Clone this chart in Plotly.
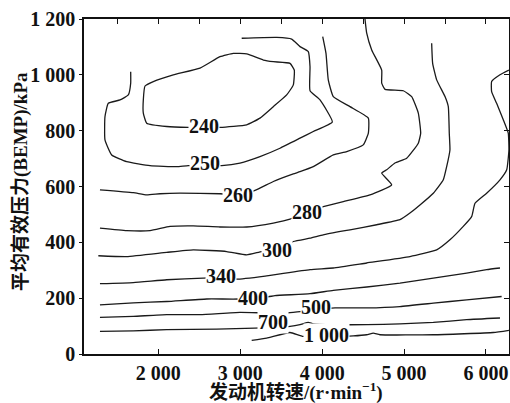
import plotly.graph_objects as go

# ---- data (engine speed r/min, BMEP kPa) ----
levels = ["240", "250", "260", "280", "300", "340", "400", "500", "700", "1 000"]

rpm_240 = [1838, 1817, 1817, 1858, 2103, 2366, 2753, 3079, 3241, 3404, 3567, 3648, 3660, 3608, 3404, 3282, 3079, 2915, 2753, 2509, 2183, 1939, 1838]
bmep_240 = [960, 910, 863, 827, 815, 812, 812, 821, 845, 886, 928, 964, 1017, 1041, 1047, 1053, 1075, 1077, 1065, 1024, 1000, 976, 960]

rpm_250 = [1663, 1663, 1634, 1533, 1390, 1349, 1349, 1431, 1614, 1899, 2225, 2366, 2774, 2997, 3241, 3485, 3730, 3892, 4124, 3974, 3852, 3852, 3831, 3730, 3628, 3445, 3018]
bmep_250 = [1011, 970, 928, 910, 898, 850, 767, 713, 689, 675, 671, 675, 675, 684, 707, 737, 773, 797, 831, 910, 943, 1029, 1083, 1101, 1128, 1134, 1131]

rpm_260 = [1288, 1695, 1858, 2021, 2265, 2753, 2973, 3180, 3404, 3648, 3730, 3892, 4136, 4300, 4502, 4564, 4564, 4340, 4136, 4075, 4047, 4007]
bmep_260 = [588, 578, 570, 574, 576, 574, 570, 586, 618, 645, 653, 671, 713, 725, 749, 791, 845, 886, 922, 982, 1077, 1137]

rpm_280 = [1288, 1614, 1899, 2143, 2427, 2753, 3079, 3404, 3608, 3791, 4014, 4258, 4584, 4849, 4727, 4788, 4889, 5032, 5174, 5203, 5174, 5093, 4991, 4768, 4727, 4727, 4605, 4544, 4523]
bmep_280 = [451, 442, 442, 457, 459, 455, 455, 469, 483, 509, 528, 546, 570, 606, 648, 660, 684, 701, 755, 791, 863, 922, 943, 948, 970, 1017, 1089, 1149, 1200]

rpm_300 = [1268, 1614, 2103, 2427, 2835, 3079, 3262, 3450, 3648, 3852, 4014, 4340, 4666, 4950, 5072, 5194, 5357, 5479, 5520, 5560, 5552, 5540, 5500, 5398, 5349, 5337]
bmep_300 = [352, 349, 364, 373, 367, 355, 367, 373, 403, 415, 427, 445, 463, 481, 505, 534, 576, 624, 671, 731, 791, 886, 922, 982, 1041, 1113]

rpm_340 = [1288, 1695, 2103, 2549, 2765, 2957, 3323, 3852, 4136, 4544, 5072, 5398, 5560, 5723, 5825, 5866, 6008, 6171, 6253, 6280, 6272, 6211, 6130, 6069, 6069, 6171, 6280]
bmep_340 = [252, 256, 266, 272, 277, 268, 280, 302, 308, 326, 349, 373, 409, 457, 492, 540, 576, 624, 660, 731, 791, 839, 898, 940, 976, 1000, 1017]

rpm_400 = [1288, 1695, 2103, 2591, 2976, 3343, 3424, 3852, 4136, 4544, 4950, 5357, 5764, 6008, 6171]
bmep_400 = [176, 183, 188, 197, 197, 205, 209, 216, 228, 240, 254, 272, 290, 302, 308]

rpm_500 = [1288, 1695, 2103, 2509, 2997, 3323, 3567, 3730, 4157, 4544, 4950, 5357, 5764, 6191]
bmep_500 = [131, 135, 141, 141, 149, 147, 147, 152, 165, 165, 170, 182, 194, 206]

rpm_700 = [1288, 1695, 2103, 2713, 3180, 3608, 3730, 3831, 3892, 4136, 4544, 4950, 5357, 5764, 6171]
bmep_700 = [81, 83, 87, 89, 93, 99, 105, 113, 108, 105, 105, 108, 113, 123, 129]

rpm_1000 = [3140, 3323, 3608, 3770, 4380, 4544, 4624, 4706, 5357, 6089, 6280]
bmep_1000 = [49, 57, 77, 63, 65, 69, 75, 69, 69, 77, 85]

# label anchor points on the lines
label_rpm = [2560, 2570, 2973, 3815, 3455, 2763, 3160, 3925, 3394, 4059]
label_bmep = [815, 684, 570, 507, 373, 280, 200, 168, 113, 69]

x_tickvals = [2000, 3000, 4000, 5000, 6000]
x_ticktext = ["2 000", "3 000", "4 000", "5 000", "6 000"]
y_tickvals = [0, 200, 400, 600, 800, 1000, 1200]
y_ticktext = ["0", "200", "400", "600", "800", "1 000", "1 200"]

X_RANGE = [1093, 6281]
Y_RANGE = [0, 1200]

lines = [
    (rpm_240, bmep_240), (rpm_250, bmep_250), (rpm_260, bmep_260),
    (rpm_280, bmep_280), (rpm_300, bmep_300), (rpm_340, bmep_340),
    (rpm_400, bmep_400), (rpm_500, bmep_500), (rpm_700, bmep_700),
    (rpm_1000, bmep_1000),
]

SERIF = "Liberation Serif, Times New Roman, Noto Sans CJK SC, serif"

fig = go.Figure()
for xs, ys in lines:
    fig.add_trace(go.Scatter(
        x=xs, y=ys, mode="lines",
        line=dict(color="#1a1a1a", width=1.3, shape="spline", smoothing=0.4),
        showlegend=False, hoverinfo="skip",
    ))

# invisible trace to carry the top/right mirror axes
fig.add_trace(go.Scatter(x=X_RANGE, y=Y_RANGE, xaxis="x2", yaxis="y2",
                         mode="markers", marker=dict(opacity=0, size=1),
                         showlegend=False, hoverinfo="skip"))

for txt, lx, ly in zip(levels, label_rpm, label_bmep):
    fig.add_annotation(x=lx, y=ly, text=txt, showarrow=False,
                       font=dict(family=SERIF, size=20, color="#111", weight="bold"),
                       bgcolor="white", borderpad=0)

fig.add_annotation(xref="paper", yref="paper", x=0.499, y=-0.113,
                   text="发动机转速/(r·min<sup>−1</sup>)", showarrow=False,
                   xanchor="center", yanchor="middle",
                   font=dict(family=SERIF, size=19, color="#111", weight="bold"))
fig.add_annotation(xref="paper", yref="paper", x=-0.147, y=0.515,
                   text="平均有效压力(BEMP)/kPa", showarrow=False, textangle=-90,
                   xanchor="center", yanchor="middle",
                   font=dict(family=SERIF, size=19, color="#111", weight="bold"))

fig.update_layout(
    width=510, height=403,
    margin=dict(l=84, r=1, t=19, b=49, autoexpand=False),
    paper_bgcolor="white", plot_bgcolor="white",
    xaxis=dict(range=X_RANGE, tickvals=x_tickvals, ticktext=x_ticktext, automargin=False,
               showline=True, linecolor="#111", linewidth=1.5, mirror=True,
               ticks="inside", ticklen=5, tickcolor="#111", showgrid=False, zeroline=False,
               tickfont=dict(family=SERIF, size=20, color="#111", weight="bold")),
    xaxis2=dict(range=X_RANGE, overlaying="x", side="top", dtick=500, tick0=0, automargin=False,
                ticks="inside", ticklen=5, tickcolor="#111", showticklabels=False,
                showgrid=False, zeroline=False, showline=False),
    yaxis=dict(range=Y_RANGE, tickvals=y_tickvals, ticktext=y_ticktext, automargin=False,
               showline=True, linecolor="#111", linewidth=1.5, mirror=True,
               ticks="outside", ticklen=3, tickcolor="#111", showgrid=False, zeroline=False,
               tickfont=dict(family=SERIF, size=20, color="#111", weight="bold")),
    yaxis2=dict(range=Y_RANGE, overlaying="y", side="right", dtick=200, tick0=0, automargin=False,
                ticks="inside", ticklen=5, tickcolor="#111", showticklabels=False,
                showgrid=False, zeroline=False, showline=False),
)

fig.write_html("out.html", config={"displayModeBar": False},
               post_script="document.body.style.margin='0';document.body.style.overflow='hidden';")
